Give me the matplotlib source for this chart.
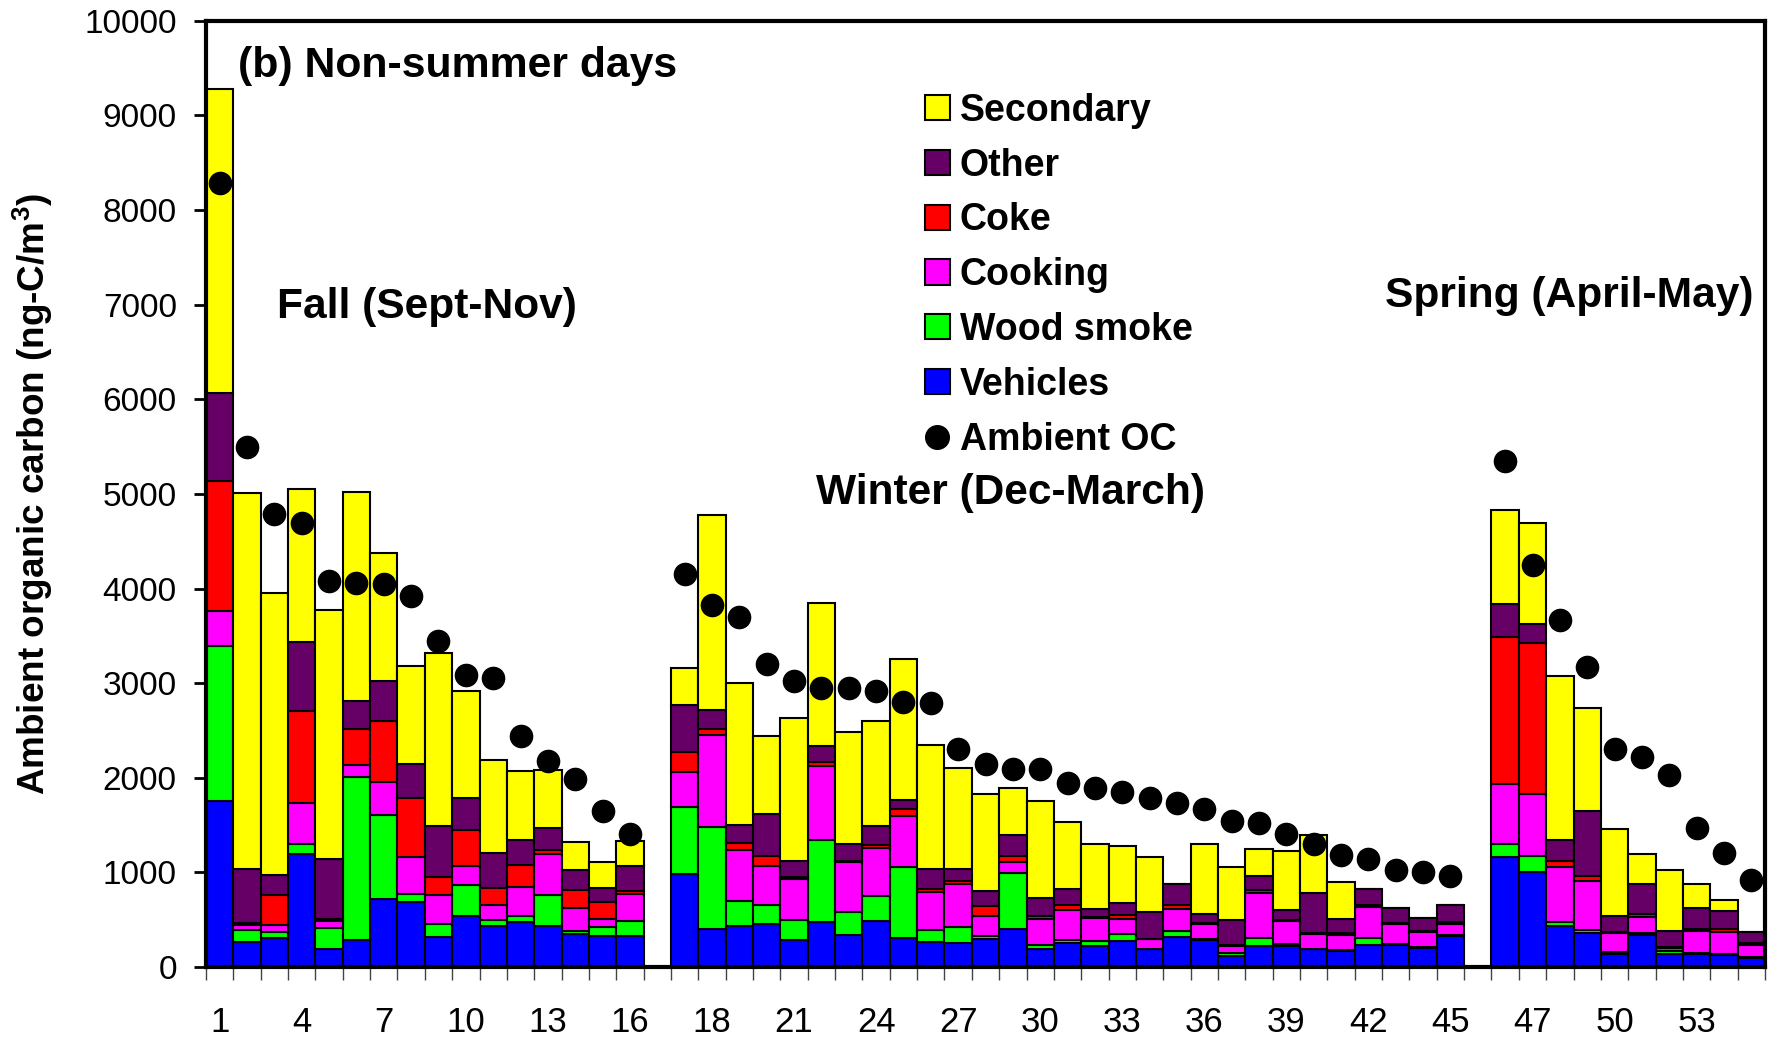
import numpy as np
import matplotlib
matplotlib.use('Agg')
import matplotlib.pyplot as plt
from matplotlib.patches import Patch
from matplotlib.lines import Line2D

plt.rcParams['font.family'] = ['Liberation Sans', 'DejaVu Sans']
plt.rcParams['mathtext.fontset'] = 'custom'
plt.rcParams['mathtext.bf'] = 'Liberation Sans:bold'
plt.rcParams['mathtext.rm'] = 'Liberation Sans:bold'

# source contributions per day (ng-C/m3), days 1-16 fall, 17-45 winter, 46-55 spring
days = np.arange(1, 56)
vehicles = [1750, 265, 310, 1195, 185, 290, 720, 690, 315, 535, 435, 475, 435, 350, 325, 330,
            980, 400, 430, 455, 290, 475, 340, 485, 305, 260,
            255, 295, 405, 185, 255, 225, 280, 185, 315, 290,
            115, 220, 220, 185, 165, 235, 235, 200, 330,
            1160, 1000, 435, 355, 140, 335, 140, 140, 130, 100]
wood_smoke = [1645, 130, 60, 100, 230, 1720, 885, 80, 140, 335, 60, 60, 330, 30, 95, 160,
              710, 1075, 270, 205, 205, 865, 240, 270, 750, 135,
              165, 30, 590, 45, 35, 55, 65, 5, 65, 10,
              35, 90, 25, 5, 10, 70, 10, 10, 10,
              135, 175, 40, 40, 20, 20, 30, 10, 5, 10]
cooking = [365, 45, 75, 440, 75, 120, 355, 390, 310, 195, 160, 315, 425, 245, 85, 285,
           375, 980, 540, 405, 430, 785, 525, 500, 545, 400,
           460, 210, 115, 280, 310, 240, 165, 105, 230, 150,
           70, 475, 240, 160, 165, 330, 205, 155, 110,
           635, 655, 580, 510, 195, 175, 30, 235, 240, 125]
coke = [1380, 25, 315, 975, 15, 390, 635, 625, 185, 385, 175, 225, 45, 190, 185, 30,
        210, 60, 70, 105, 30, 45, 20, 35, 65, 25,
        25, 105, 60, 30, 60, 10, 35, 5, 40, 10,
        10, 30, 15, 10, 20, 25, 20, 20, 25,
        1560, 1595, 65, 60, 20, 25, 10, 20, 25, 20]
other = [930, 570, 215, 720, 635, 290, 430, 365, 545, 335, 380, 265, 230, 210, 150, 265,
         490, 205, 195, 450, 160, 170, 175, 200, 105, 215,
         130, 160, 225, 185, 160, 85, 135, 280, 225, 100,
         265, 150, 100, 425, 150, 160, 150, 135, 180,
         345, 205, 225, 680, 165, 325, 175, 220, 190, 120]
secondary = [3210, 3975, 2980, 1625, 2635, 2210, 1350, 1035, 1820, 1130, 975, 730, 615, 295, 270, 265,
             400, 2055, 1500, 825, 1515, 1505, 1185, 1110, 1480, 1310,
             1065, 1025, 500, 1030, 715, 680, 600, 580, 0, 735,
             565, 280, 625, 610, 390, 0, 0, 0, 0,
             1000, 1060, 1730, 1095, 915, 315, 645, 255, 120, 0]
ambient_oc = [8290, 5500, 4785, 4695, 4080, 4060, 4045, 3925, 3445, 3090, 3050, 2440, 2180, 1985, 1650, 1405,
              4150, 3825, 3695, 3205, 3025, 2945, 2945, 2920, 2800, 2790,
              2300, 2150, 2095, 2095, 1940, 1895, 1850, 1790, 1730, 1675,
              1540, 1525, 1410, 1295, 1180, 1145, 1020, 1000, 965,
              5350, 4250, 3665, 3170, 2305, 2220, 2025, 1465, 1200, 915]
tick_days = [1, 4, 7, 10, 13, 16, 18, 21, 24, 27, 30, 33, 36, 39, 42, 45, 47, 50, 53]

layers = [('Vehicles', vehicles, '#0000ff'),
          ('Wood smoke', wood_smoke, '#00ff00'),
          ('Cooking', cooking, '#ff00ff'),
          ('Coke', coke, '#ff0000'),
          ('Other', other, '#660066'),
          ('Secondary', secondary, '#ffff00')]


def slot(d):
    # empty category after fall and after winter
    d = np.asarray(d)
    return d + (d >= 17) + (d >= 46)


W, H = 1776, 1037
fig = plt.figure(figsize=(W / 100, H / 100), dpi=100)
ax = fig.add_axes([206 / W, (H - 967) / H, (1765 - 206) / W, (967 - 20.8) / H])

x = slot(days)
bottom = np.zeros(len(days))
handles = {}
for name, vals, color in layers:
    vals = np.array(vals, dtype=float)
    ax.bar(x, vals, width=1.0, bottom=bottom, color=color,
           edgecolor='black', linewidth=1.5, zorder=2)
    handles[name] = Patch(facecolor=color, edgecolor='black', linewidth=1.5)
    bottom += vals

ax.plot(x, ambient_oc, linestyle='none', marker='o', markersize=16,
        color='black', zorder=3)
handles['Ambient OC'] = Line2D([], [], linestyle='none', marker='o',
                               markersize=17, color='black')

ax.set_xlim(0.5, 57.5)
ax.set_ylim(0, 10000)
ax.set_yticks(np.arange(0, 10001, 1000))
ax.tick_params(axis='y', direction='out', length=9, width=2, labelsize=24, pad=12)
ax.set_xticks(slot(tick_days))
ax.set_xticklabels([str(t) for t in tick_days])
ax.set_xticks(np.arange(0.5, 58, 1.0), minor=True)
ax.tick_params(axis='x', which='major', length=0, labelsize=25, pad=28)
ax.tick_params(axis='x', which='minor', direction='out', length=9, width=1, color='#444444')
for s in ax.spines.values():
    s.set_linewidth(3)
    s.set_zorder(4)

ax.set_ylabel(r'Ambient organic carbon (ng-C/m$^\mathbf{3}$)',
              fontsize=26.6, fontweight='bold')
ax.yaxis.set_label_coords(-0.097, 0.5)

ax.text(0.0205, 0.952, '(b) Non-summer days', transform=ax.transAxes,
        fontsize=30.8, fontweight='bold', va='center', ha='left')
ax.text(0.0455, 0.6974, 'Fall (Sept-Nov)', transform=ax.transAxes,
        fontsize=30.6, fontweight='bold', va='center', ha='left')
ax.text(0.391, 0.5005, 'Winter (Dec-March)', transform=ax.transAxes,
        fontsize=30.6, fontweight='bold', va='center', ha='left')
ax.text(0.7563, 0.709, 'Spring (April-May)', transform=ax.transAxes,
        fontsize=30.6, fontweight='bold', va='center', ha='left')

order = ['Secondary', 'Other', 'Coke', 'Cooking', 'Wood smoke', 'Vehicles', 'Ambient OC']
ax.legend([handles[k] for k in order], order, loc='upper left',
          bbox_to_anchor=(925 / W, 1 - 93 / H), bbox_transform=fig.transFigure,
          frameon=False, prop={'size': 27, 'weight': 'bold'},
          handlelength=0.66, handleheight=0.66, handletextpad=0.27,
          labelspacing=0.5, borderpad=0, borderaxespad=0)

fig.savefig('out.png', dpi=100)
